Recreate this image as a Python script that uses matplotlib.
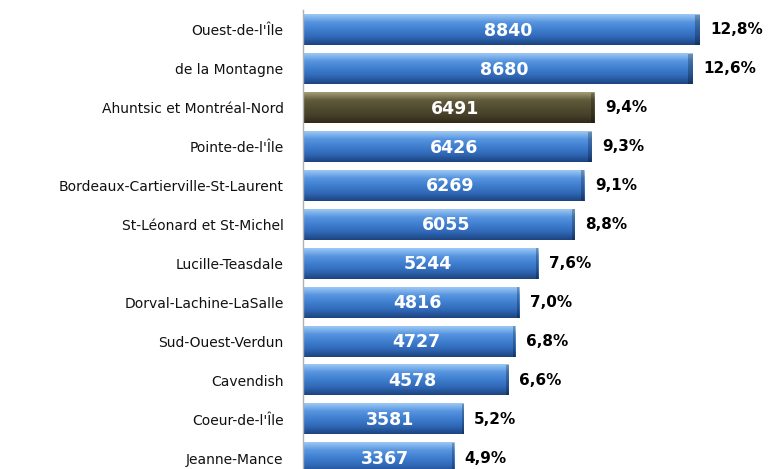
import numpy as np
import matplotlib
matplotlib.use("Agg")
import matplotlib.pyplot as plt
from matplotlib.colors import LinearSegmentedColormap

categories = ["Ouest-de-l'Île", "de la Montagne", "Ahuntsic et Montréal-Nord",
              "Pointe-de-l'Île", "Bordeaux-Cartierville-St-Laurent",
              "St-Léonard et St-Michel", "Lucille-Teasdale", "Dorval-Lachine-LaSalle",
              "Sud-Ouest-Verdun", "Cavendish", "Coeur-de-l'Île", "Jeanne-Mance"]
values = [8840, 8680, 6491, 6426, 6269, 6055, 5244, 4816, 4727, 4578, 3581, 3367]
percents = ["12,8%", "12,6%", "9,4%", "9,3%", "9,1%", "8,8%", "7,6%", "7,0%",
            "6,8%", "6,6%", "5,2%", "4,9%"]
highlight = "Ahuntsic et Montréal-Nord"

W, H = 774, 469
fig = plt.figure(figsize=(W / 100, H / 100), dpi=100)
left_px, right_px = 303, 752
ax = fig.add_axes([left_px / W, 0, (right_px - left_px) / W, 1 - 10.5 / H])
ax.set_xlim(0, 10000)
ax.set_ylim(11.28, -0.5)

blue = LinearSegmentedColormap.from_list("b", ["#9cc8f4", "#5896e0", "#3f7ecf", "#3068b6", "#1c4480"])
olive = LinearSegmentedColormap.from_list("o", ["#a29c78", "#625c3c", "#524c32", "#46402a", "#2e2a18"])

h = 0.78
grad = np.linspace(0, 1, 64).reshape(-1, 1)
for i, (c, v, p) in enumerate(zip(categories, values, percents)):
    cmap = olive if c == highlight else blue
    ax.imshow(grad, cmap=cmap, aspect="auto", extent=[0, v, i + h / 2, i - h / 2],
              interpolation="bilinear", zorder=2)
    ax.barh(i, v * 0.012, left=v * 0.988, height=h, color="black", alpha=0.25,
            zorder=3, linewidth=0)
    ax.text(v / 2 + 150, i + 0.02, f"{v}", color="white", fontsize=12.5,
            fontweight="bold", ha="center", va="center", family="DejaVu Sans", zorder=4)
    ax.text(v + 230, i, p, color="black", fontsize=11, fontweight="bold",
            ha="left", va="center", family="DejaVu Sans", zorder=4)

ax.set_yticks(range(len(categories)))
ax.set_yticklabels(categories, fontsize=10, family="DejaVu Sans", color="#111111")
ax.tick_params(axis="y", length=0, pad=14)
ax.set_xticks([])
for s in ["top", "right", "bottom"]:
    ax.spines[s].set_visible(False)
ax.spines["left"].set_color("#b0b0b0")
ax.spines["left"].set_linewidth(1)

fig.savefig("out.png", dpi=100)
